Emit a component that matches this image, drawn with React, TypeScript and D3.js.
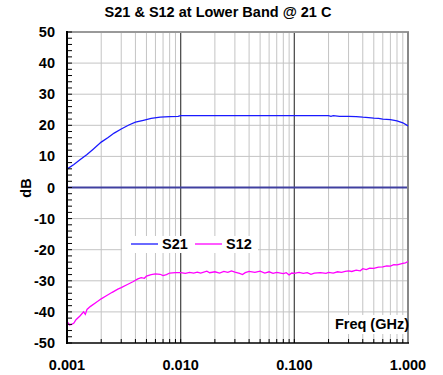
import React from "react";
import * as d3 from "d3";

const title = "S21 & S12 at Lower Band @ 21 C";
const yTicks = [50, 40, 30, 20, 10, 0, -10, -20, -30, -40, -50];
const xTickValues = [0.001, 0.01, 0.1, 1];
const xTickLabels = ["0.001", "0.010", "0.100", "1.000"];

const s21Freq = [0.001, 0.00115, 0.0013, 0.0015, 0.0017, 0.002, 0.0023, 0.0026, 0.003, 0.0035, 0.004, 0.0047, 0.0055, 0.0066, 0.008, 0.0095, 0.01, 0.02, 0.05, 0.1, 0.2, 0.21, 0.22, 0.25, 0.3, 0.35, 0.4, 0.45, 0.5, 0.55, 0.6, 0.7, 0.8, 0.9, 1.0];
const s21Vals = [5.9, 7.4, 8.9, 10.6, 12.3, 14.6, 16.1, 17.5, 18.8, 20.1, 21.0, 21.6, 22.2, 22.6, 22.8, 22.9, 23.1, 23.1, 23.1, 23.1, 23.1, 22.9, 23.1, 22.9, 22.9, 22.8, 22.6, 22.5, 22.3, 22.2, 22.0, 21.8, 21.4, 20.8, 19.8];

const s12Freq = [0.001, 0.00105, 0.0011, 0.00115, 0.0012, 0.0013, 0.0014, 0.00145, 0.0015, 0.0016, 0.0018, 0.002, 0.0022, 0.0025, 0.0028, 0.003, 0.0034, 0.0038, 0.0042, 0.0045, 0.0048, 0.005, 0.0055, 0.006, 0.0066, 0.007, 0.0075, 0.008, 0.009, 0.01, 0.011, 0.012, 0.013, 0.014, 0.015, 0.017, 0.018, 0.02, 0.022, 0.024, 0.026, 0.028, 0.03, 0.033, 0.035, 0.037, 0.04, 0.045, 0.05, 0.055, 0.06, 0.065, 0.07, 0.08, 0.085, 0.09, 0.095, 0.1, 0.11, 0.12, 0.13, 0.14, 0.15, 0.17, 0.19, 0.2, 0.22, 0.24, 0.26, 0.28, 0.3, 0.32, 0.35, 0.38, 0.4, 0.43, 0.46, 0.5, 0.55, 0.6, 0.65, 0.7, 0.75, 0.8, 0.85, 0.9, 0.95, 1.0];
const s12Vals = [-43.0, -44.2, -44.0, -43.6, -42.5, -41.3, -40.0, -40.8, -39.2, -38.3, -37.0, -35.8, -34.9, -33.7, -32.7, -32.2, -31.2, -30.3, -29.4, -29.0, -29.2, -28.5, -28.0, -27.8, -27.9, -28.3, -28.0, -27.5, -27.4, -27.4, -27.6, -27.3, -27.5, -27.2, -27.5, -26.9, -27.4, -27.1, -27.5, -27.0, -27.3, -26.8, -27.2, -27.6, -28.0, -27.4, -27.0, -27.3, -26.9, -27.5, -27.1, -27.6, -27.3, -27.7, -27.4, -28.1, -27.5, -27.6, -27.3, -27.6, -27.4, -27.9, -27.5, -27.4, -27.6, -27.3, -27.5, -27.1, -27.3, -27.0, -26.8, -27.0, -26.6, -26.8, -26.1, -26.4, -25.9, -26.0, -25.6, -25.5, -25.2, -25.3, -24.8, -24.9, -24.6, -24.4, -24.2, -23.8];

const W = 443;
const H = 375;
const L = 67;
const R = 408;
const T = 32;
const B = 343;
const font = "'Liberation Sans', Arial, sans-serif";

export default function App() {
  const x = d3.scaleLog().domain([0.001, 1]).range([L, R]);
  const y = d3.scaleLinear().domain([-50, 50]).range([B, T]);

  const minorX: number[] = [];
  for (let e = -3; e < 0; e++) {
    for (let k = 2; k <= 9; k++) minorX.push(k * Math.pow(10, e));
  }
  const yMinor = d3.range(-50, 51, 2);
  const yGrid = d3.range(-40, 41, 10).filter((v) => v !== 0);

  const line = d3
    .line<[number, number]>()
    .x((d) => x(d[0]))
    .y((d) => y(d[1]));
  const s21 = line(s21Freq.map((f, i) => [f, s21Vals[i]] as [number, number])) || "";
  const s12 = line(s12Freq.map((f, i) => [f, s12Vals[i]] as [number, number])) || "";

  return (
    <svg width={W} height={H} style={{ position: "absolute", left: 0, top: 0, background: "#fff" }} fontFamily={font}>
      <rect x={0} y={0} width={W} height={H} fill="#fff" />
      {minorX.map((v, i) => (
        <line key={"mx" + i} x1={x(v)} x2={x(v)} y1={T} y2={B} stroke="#c4c4c4" strokeWidth={1} />
      ))}
      {yGrid.map((v) => (
        <line key={"gy" + v} x1={L} x2={R} y1={y(v)} y2={y(v)} stroke="#c4c4c4" strokeWidth={1} />
      ))}
      {[0.01, 0.1].map((v) => (
        <line key={"dx" + v} x1={x(v)} x2={x(v)} y1={T} y2={B} stroke="#505050" strokeWidth={1.3} />
      ))}
      <line x1={L} x2={R} y1={y(0)} y2={y(0)} stroke="#4040a0" strokeWidth={1.8} />
      <line x1={L} x2={R + 1} y1={T} y2={T} stroke="#999" strokeWidth={2} />
      <line x1={R} x2={R} y1={T} y2={B} stroke="#888" strokeWidth={2} />
      <path d={s21} fill="none" stroke="#1a1aff" strokeWidth={1.3} />
      <path d={s12} fill="none" stroke="#ff00ff" strokeWidth={1.3} />
      <line x1={L} x2={L} y1={T - 1} y2={B + 1} stroke="#000" strokeWidth={2} />
      <line x1={L} x2={R + 1} y1={B} y2={B} stroke="#000" strokeWidth={1.5} />
      {yMinor.map((v) => (
        <line key={"ty" + v} x1={L} x2={L + 5} y1={y(v)} y2={y(v)} stroke="#000" strokeWidth={1} />
      ))}
      {minorX.concat([0.01, 0.1]).map((v, i) => (
        <line key={"tx" + i} x1={x(v)} x2={x(v)} y1={B} y2={B - 4} stroke="#000" strokeWidth={1} />
      ))}
      {yTicks.map((v) => (
        <text key={"yl" + v} x={55} y={y(v) + 5} textAnchor="end" fontSize={14.5} fontWeight="bold" fill="#000">
          {v}
        </text>
      ))}
      {xTickValues.map((v, i) => (
        <text key={"xl" + i} x={x(v)} y={370} textAnchor="middle" fontSize={14.5} fontWeight="bold" fill="#000">
          {xTickLabels[i]}
        </text>
      ))}
      <text x={31} y={188} transform="rotate(-90 31 188)" textAnchor="middle" fontSize={14.5} fontWeight="bold">
        dB
      </text>
      <text x={218} y={17} textAnchor="middle" fontSize={14.5} fontWeight="bold">
        {title}
      </text>
      <rect x={122} y={236} width={136} height={17} fill="#fff" />
      <line x1={131} x2={158} y1={244} y2={244} stroke="#1a1aff" strokeWidth={1.3} />
      <text x={162} y={249} fontSize={14.5} fontWeight="bold">S21</text>
      <line x1={195} x2={222} y1={244} y2={244} stroke="#ff00ff" strokeWidth={1.3} />
      <text x={226} y={249} fontSize={14.5} fontWeight="bold">S12</text>
      <rect x={331} y={315} width={76} height={19} fill="#fff" />
      <text x={409} y={329} textAnchor="end" fontSize={14.5} fontWeight="bold">Freq (GHz)</text>
    </svg>
  );
}
